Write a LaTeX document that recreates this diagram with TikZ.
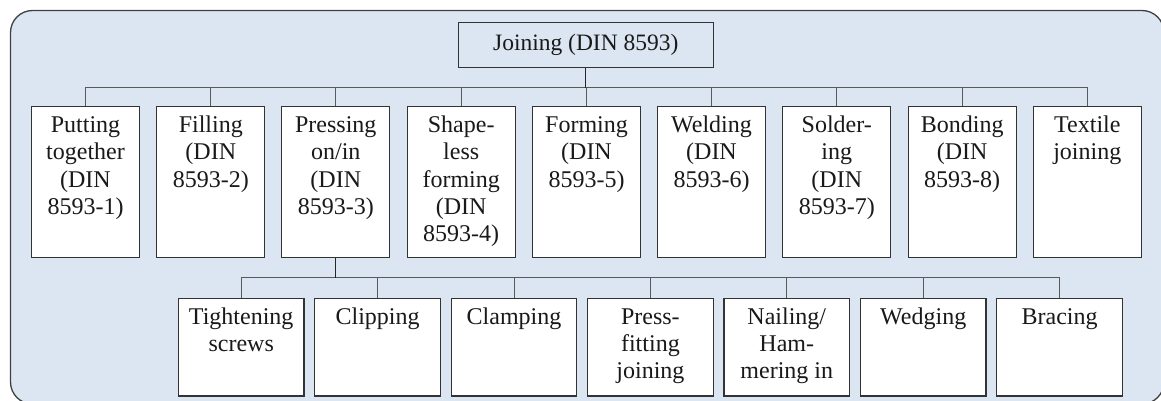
\documentclass[tikz,border=0pt]{standalone}
\usepackage{fontspec}
\setmainfont{Liberation Serif}
\begin{document}
\begin{tikzpicture}[x=1pt,y=-1pt,
  frame/.style={draw=black!75,line width=1.3pt,fill=panelblue,rounded corners=22pt},
  rootbox/.style={draw=black!80,line width=1.2pt,fill=panelblue,inner sep=0pt,
    minimum width=255pt,minimum height=45pt,font=\fontsize{23.5}{27.2}\selectfont,text=black!90},
  boxA/.style={draw=black!80,line width=1.2pt,fill=white,inner sep=0pt,
    minimum width=108pt,minimum height=150.6pt},
  boxB/.style={draw=black!80,line width=1.2pt,fill=white,inner sep=0pt,
    minimum width=125.5pt,minimum height=97.7pt},
  label/.style={anchor=base,inner sep=0pt,text=black!90},
  link/.style={draw=black!65,line width=0.8pt},
  trunk/.style={draw=black!85,line width=1.1pt}]
\definecolor{panelblue}{HTML}{DCE6F2}
\newcommand{\boxtext}[1]{\parbox[t]{124pt}{\centering\fontsize{24}{27.2}\selectfont #1}}

\useasboundingbox (0,0) rectangle (1161,401);
\path[frame] (10.5,10.5) rectangle (1164,404);

% root
\node[rootbox] (root) at (585.8,44.8) {Joining (DIN 8593)};

% first level boxes
\node[boxA] (p1) at (85.5,182) {};
\node[boxA] (p2) at (210.8,182) {};
\node[boxA] (p3) at (335.8,182) {};
\node[boxA] (p4) at (461.2,182) {};
\node[boxA] (p5) at (586.5,182) {};
\node[boxA] (p6) at (711.5,182) {};
\node[boxA] (p7) at (836.8,182) {};
\node[boxA] (p8) at (962.2,182) {};
\node[boxA] (p9) at (1087.3,182) {};

\node[label] at ([yshift=-26.5pt]p1.north) {\boxtext{Putting\\together\\(DIN\\8593-1)}};
\node[label] at ([yshift=-26.5pt]p2.north) {\boxtext{Filling\\(DIN\\8593-2)}};
\node[label] at ([yshift=-26.5pt]p3.north) {\boxtext{Pressing\\on/in\\(DIN\\8593-3)}};
\node[label] at ([yshift=-26.5pt]p4.north) {\boxtext{Shape-\\less\\forming\\(DIN\\8593-4)}};
\node[label] at ([yshift=-26.5pt]p5.north) {\boxtext{Forming\\(DIN\\8593-5)}};
\node[label] at ([yshift=-26.5pt]p6.north) {\boxtext{Welding\\(DIN\\8593-6)}};
\node[label] at ([yshift=-26.5pt]p7.north) {\boxtext{Solder-\\ing\\(DIN\\8593-7)}};
\node[label] at ([yshift=-26.5pt]p8.north) {\boxtext{Bonding\\(DIN\\8593-8)}};
\node[label] at ([yshift=-26.5pt]p9.north) {\boxtext{Textile\\joining}};

% second level boxes (under pressing on/in)
\node[boxB] (q1) at (241.2,347.2) {};
\node[boxB] (q2) at (377.6,347.2) {};
\node[boxB] (q3) at (514.0,347.2) {};
\node[boxB] (q4) at (650.4,347.2) {};
\node[boxB] (q5) at (786.8,347.2) {};
\node[boxB] (q6) at (923.2,347.2) {};
\node[boxB] (q7) at (1059.6,347.2) {};

\node[label] at ([yshift=-26.5pt]q1.north) {\boxtext{Tightening\\screws}};
\node[label] at ([yshift=-26.5pt]q2.north) {\boxtext{Clipping}};
\node[label] at ([yshift=-26.5pt]q3.north) {\boxtext{Clamping}};
\node[label] at ([yshift=-26.5pt]q4.north) {\boxtext{Press-\\fitting\\joining}};
\node[label] at ([yshift=-26.5pt]q5.north) {\boxtext{Nailing/\\Ham-\\mering in}};
\node[label] at ([yshift=-26.5pt]q6.north) {\boxtext{Wedging}};
\node[label] at ([yshift=-26.5pt]q7.north) {\boxtext{Bracing}};

% bus levels
\coordinate (busA) at (0,87.7);
\coordinate (busB) at (0,277.7);

% connectors root -> first level
\foreach \c in {p1,p2,p3,p4,p5,p6,p7,p8,p9}
  \draw[link] (root.south |- busA) -| (\c.north);
\draw[trunk] (root.south) -- (root.south |- busA);

% connectors pressing on/in -> second level
\foreach \c in {q1,q2,q3,q4,q5,q6,q7}
  \draw[link] (p3.south |- busB) -| (\c.north);
\draw[trunk] (p3.south) -- (p3.south |- busB);
\end{tikzpicture}
\end{document}
